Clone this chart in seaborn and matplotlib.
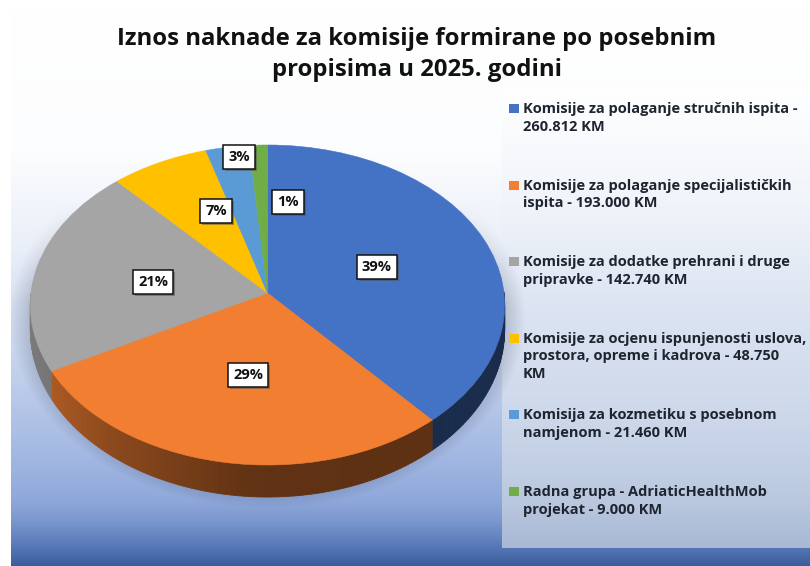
import numpy as np
import matplotlib
matplotlib.use("Agg")
import matplotlib.pyplot as plt
import matplotlib.patheffects as pe
from matplotlib.patches import Rectangle
from matplotlib.transforms import Transform
import seaborn as sns

# Data
title = "Iznos naknade za komisije formirane po posebnim\npropisima u 2025. godini"
labels = [
    "Komisije za polaganje stručnih ispita -\n260.812 KM",
    "Komisije za polaganje specijalističkih\nispita - 193.000 KM",
    "Komisije za dodatke prehrani i druge\npripravke - 142.740 KM",
    "Komisije za ocjenu ispunjenosti uslova,\nprostora, opreme i kadrova - 48.750\nKM",
    "Komisija za kozmetiku s posebnom\nnamjenom - 21.460 KM",
    "Radna grupa - AdriaticHealthMob\nprojekat - 9.000 KM",
]
values = [260812, 193000, 142740, 48750, 21460, 9000]
colors = sns.color_palette(["#4472C4", "#F27E31", "#A5A5A5", "#FFC000", "#5B9BD5", "#70AD47"])

# Where the percent boxes sit (pixels)
pct_pos = [(377, 267), (248, 375), (153, 282), (216, 211), (239, 157), (288, 202)]

W, H = 810, 566
CX, CY, SX, SY, K = 267.5, 293, 236.5, 159.1, 0.075

sns.set_theme(style="white")
plt.rcParams["font.family"] = ["Open Sans", "DejaVu Sans"]


# Tilted pie: unit circle to pixels, with the near side a bit larger
def project(u, v):
    w = 1 + K * v
    return CX + SX * u / w, CY - SY * v / w


class Tilt(Transform):
    input_dims = output_dims = 2
    is_affine = False

    def transform_non_affine(self, values):
        x, y = project(values[:, 0], values[:, 1])
        return np.column_stack([x, y])


def gradient(ys, stops):
    pos = [s[0] for s in stops]
    rgb = np.array([matplotlib.colors.to_rgb(s[1]) for s in stops])
    return np.column_stack([np.interp(ys, pos, rgb[:, i]) for i in range(3)])


# Background
yy, xx = np.mgrid[0:H, 0:W]
bg = np.ones((H, W, 3))
back = gradient(np.arange(H), [(9, "#FFFFFF"), (150, "#FCFDFE"), (250, "#E9EEF8"), (350, "#C9D6EE"),
                               (450, "#A5BAE3"), (500, "#8FA8DB"), (520, "#7B97CE"), (540, "#5F80BD"),
                               (566, "#385C9C")])
bg[9:, 11:] = back[9:, None, :]
panel = gradient(np.arange(H), [(88, "#FFFFFF"), (200, "#F1F4FA"), (320, "#DAE3F1"), (420, "#CCD7EA"),
                                (500, "#BAC8DF"), (548, "#A8B8D4")])
bg[88:548, 502:] = panel[88:548, None, :]

# Soft shadow under the pie, only around the lower half
r = np.hypot((xx - 267) / 258, (yy - 318) / 190)
shade = 0.36 * np.clip((1 - r) / 0.12, 0, 1) * np.clip((yy - 200) / 100, 0, 1)
shade = shade[:, :, None]
shade[:, :11] = 0
bg = bg * (1 - shade) + np.array([0.25, 0.28, 0.38]) * shade

fig = plt.figure(figsize=(W / 100, H / 100), dpi=100)
ax = fig.add_axes([0, 0, 1, 1])
ax.imshow(bg, extent=(0, W, H, 0), aspect="auto", zorder=0, interpolation="bilinear")

wedges, _, pcts = ax.pie(values, colors=colors, startangle=90, counterclock=False, radius=1,
                         autopct="%1.0f%%", pctdistance=0.6)
ax.set_aspect("auto")
ax.set_xlim(0, W)
ax.set_ylim(H, 0)
ax.axis("off")

tilt = Tilt()
for wedge in wedges:
    wedge.set_transform(tilt + ax.transData)
    wedge.set_zorder(3)
    wedge.set_edgecolor(wedge.get_facecolor())
    wedge.set_linewidth(0.4)

# Side wall of the disc, cut in thin strips for the shading
edges = np.concatenate([[0], np.cumsum(values)]) / np.sum(values) * 2 * np.pi
for start, stop, color in zip(edges[:-1], edges[1:], colors):
    angles = np.linspace(start, stop, max(int(np.degrees(stop - start)), 2) + 1)
    for a0, a1 in zip(angles[:-1], angles[1:]):
        if np.cos((a0 + a1) / 2) > 0:
            continue
        u = np.sin([a0, a1])
        v = np.cos([a0, a1])
        x, y = project(u, v)
        depth = 24 - 8 * v
        mid = x.mean()
        f = np.interp(mid, [30, 55, 110, 250, 510], [0.74, 0.7, 0.58, 0.4, 0.38])
        ax.fill([x[0], x[1], x[1], x[0]], [y[0], y[1], y[1] + depth[1], y[0] + depth[0]],
                color=np.array(color) * f, lw=0.6, zorder=2)

# Percent boxes
for txt, pos in zip(pcts, pct_pos):
    txt.set_position(pos)
    txt.set_transform(ax.transData)
    txt.set(ha="center", va="center", fontsize=10.5, fontweight="bold", color="#111111", zorder=5,
            bbox=dict(boxstyle="square,pad=0.36", fc="white", ec="#111111", lw=1.1))
    txt.get_bbox_patch().set_path_effects([pe.withSimplePatchShadow(offset=(1.5, -1.5), alpha=0.5)])

# Legend
for i, (lab, color) in enumerate(zip(labels, colors)):
    y0 = 108.5 + i * 76.6
    ax.add_patch(Rectangle((509, y0 - 4.5), 9.5, 9, color=color, lw=0, zorder=4))
    ax.text(523, y0 - 6.5, lab, fontsize=10.55, fontweight="bold", color="#1E2430", va="top", ha="left",
            linespacing=1.32, zorder=4)

ax.text(417, 54.5, title, fontsize=17.2, fontweight="bold", color="#111111", ha="center", va="center",
        linespacing=1.42, zorder=4)

fig.savefig("out.png", dpi=100)
